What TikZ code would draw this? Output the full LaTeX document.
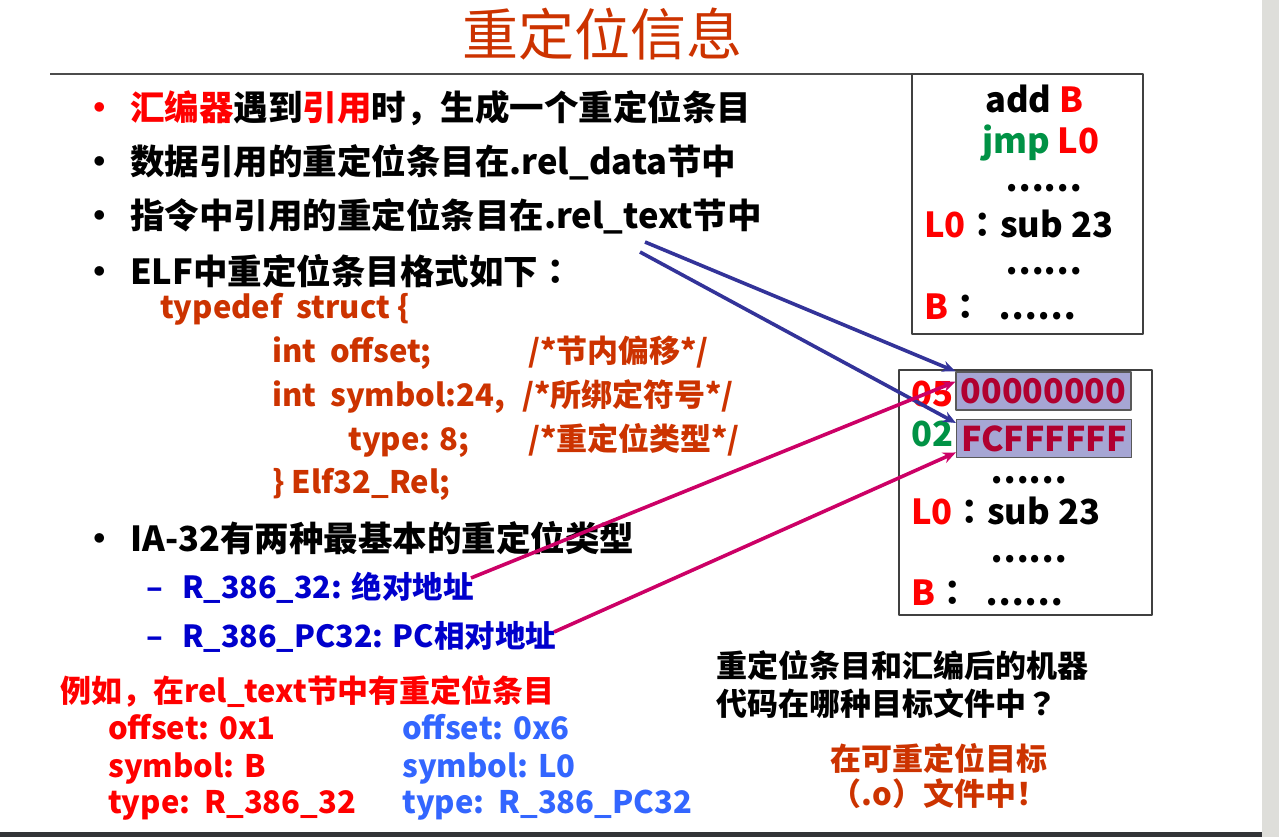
\documentclass[tikz,border=0pt]{standalone}
\usepackage{fontspec}
\setmainfont{Noto Sans CJK SC}
\newfontfamily\tcfont{Noto Sans CJK TC}
\usetikzlibrary{arrows.meta}
\definecolor{rust}{RGB}{204,51,0}
\definecolor{navy}{RGB}{0,0,204}
\definecolor{leaf}{RGB}{0,146,69}
\definecolor{sky}{RGB}{51,102,255}
\definecolor{hlfill}{RGB}{166,166,212}
\definecolor{hltext}{RGB}{176,0,48}
\definecolor{linkblue}{RGB}{51,51,153}
\definecolor{linkpink}{RGB}{204,0,102}
\definecolor{strip}{RGB}{222,222,218}
\definecolor{bar}{RGB}{50,52,55}
\newcommand\fs[1]{\fontsize{#1}{#1}\selectfont}
\newcommand\gap{\hspace{0.45em}}
\begin{document}
\begin{tikzpicture}[x=1pt,y=-1pt,line join=round,>={Stealth[length=13pt,width=11pt]},
	txt/.style={anchor=base west,inner sep=0pt,font=\bfseries\fs{34.5}},
	code/.style={txt,text=rust,font=\bfseries\fs{31}},
	sub/.style={txt,text=navy,font=\bfseries\fs{30.5}},
	ex/.style={txt,font=\bfseries\fs{31}},
	hl/.style={draw=black!65,line width=1.2pt,fill=hlfill,minimum width=175pt,minimum height=38pt,inner sep=0pt,text=hltext,font=\bfseries\fs{34}},
	box/.style={draw=black!75,line width=1.6pt},
	link/.style={->,line width=3.6pt}]
	\useasboundingbox (0,0) rectangle (1279,837);
	\fill[strip] (1262,0) rectangle (1279,837);
	\fill[bar] (0,832) rectangle (1262,837);
	% title
	\node[anchor=base,inner sep=0pt,text=rust,font=\fs{56}] (title) at (602,56) {重定位信息};
	\draw[black!70,line width=1.6pt] (50,74) -- (1127,74);
	% bullets
	\node[txt,text=red] (dot1) at (82,121) {•};
	\node[txt] (dot2) at (82,175) {•};
	\node[txt] (dot3) at (82,229) {•};
	\node[txt] (dot4) at (82,284) {•};
	\node[txt] (dot5) at (82,551) {•};
	\node[txt] (b1) at (130,121) {\textcolor{red}{汇编器}遇到\textcolor{red}{引用}时，生成一个重定位条目};
	\node[txt] (b2) at (130,175) {数据引用的重定位条目在.rel\_data节中};
	\node[txt] (b3) at (130,229) {指令中引用的重定位条目在.rel\_text节中};
	\node[txt] (b4) at (130,284) {ELF中重定位条目格式如下{\tcfont ：}};
	\node[code] (c1) at (160,318) {typedef\gap struct \{};
	\node[code] (c2) at (272,362) {int\gap offset;};
	\node[code] (c2r) at (528,362) {/*节内偏移*/};
	\node[code] (c3) at (272,406) {int\gap symbol:24,};
	\node[code] (c3r) at (522,406) {/*所绑定符号*/};
	\node[code] (c4) at (348,450) {type: 8;};
	\node[code] (c4r) at (528,450) {/*重定位类型*/};
	\node[code] (c5) at (272,493) {\} Elf32\_Rel;};
	\node[txt] (b5) at (130,551) {IA-32有两种最基本的重定位类型};
	\node[sub] (dash1) at (146,598) {–};
	\node[sub] (t32) at (182,598) {R\_386\_32: 绝对地址};
	\node[sub] (dash2) at (146,647) {–};
	\node[sub] (tpc) at (182,647) {R\_386\_PC32: PC相对地址};
	% example
	\node[ex,text=red] (eg) at (60,702) {例如，在rel\_text节中有重定位条目};
	\node[ex,text=red] (off1) at (108,739) {offset: 0x1};
	\node[ex,text=red] (sym1) at (108,777) {symbol: B};
	\node[ex,text=red] (typ1) at (108,813) {type:\gap R\_386\_32};
	\node[ex,text=sky] (off2) at (402,739) {offset: 0x6};
	\node[ex,text=sky] (sym2) at (402,777) {symbol: L0};
	\node[ex,text=sky] (typ2) at (402,813) {type:\gap R\_386\_PC32};
	\node[ex] (q1) at (716,677) {重定位条目和汇编后的机器};
	\node[ex] (q2) at (716,715) {代码在哪种目标文件中{\tcfont ？}};
	\node[ex,anchor=base,text=rust] (a1) at (939,770) {在可重定位目标};
	\node[ex,anchor=base,text=rust] (a2) at (939,805) {（.o）文件中！};
	% source box
	\draw[box] (912,74) rectangle (1143,334);
	\node[txt] (add) at (985,113) {add \textcolor{red}{B}};
	\node[txt,text=leaf] (jmp) at (982,154) {jmp \textcolor{red}{L0}};
	\node[txt] (dd1) at (1005,192) {……};
	\node[txt] (lab1) at (924,237) {\textcolor{red}{L0}{\tcfont ：}sub 23};
	\node[txt] (dd2) at (1005,274) {……};
	\node[txt] (labb1) at (924,319) {\textcolor{red}{B}{\tcfont ：}\ \ ……};
	% object box
	\draw[box] (899,370) rectangle (1152,615);
	\node[txt,text=red] (n05) at (911,406) {05};
	\node[txt,text=leaf] (n02) at (911,446) {02};
	\node[hl] (hl1) at (1043.5,391) {00000000};
	\node[hl] (hl2) at (1044,438.5) {FCFFFFFF};
	\node[txt] (dd3) at (990,483) {……};
	\node[txt] (lab2) at (911,524) {\textcolor{red}{L0}{\tcfont ：}sub 23};
	\node[txt] (dd4) at (990,562) {……};
	\node[txt] (labb2) at (911,605) {\textcolor{red}{B}{\tcfont ：}\ \ ……};
	% links
	\coordinate (s1) at (645,242);
	\coordinate (s2) at (640,252);
	\coordinate (m1) at (471,578);
	\coordinate (m2) at (554,632);
	\draw[link,linkblue] (s1) -- (hl1.north west);
	\draw[link,linkblue] (s2) -- (hl2.170);
	\draw[link,linkpink] (m1) -- (hl1.174);
	\draw[link,linkpink] (m2) -- (hl2.189);
\end{tikzpicture}
\end{document}
